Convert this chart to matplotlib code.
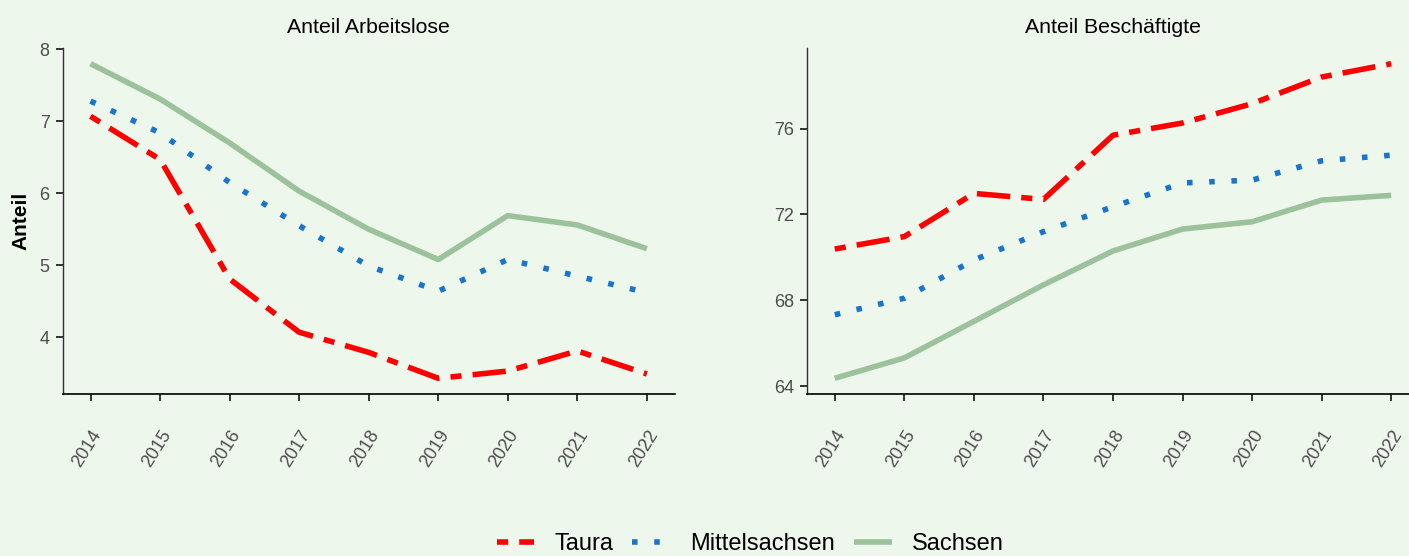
import matplotlib
matplotlib.use("Agg")
import matplotlib.pyplot as plt

# data
years = [2014, 2015, 2016, 2017, 2018, 2019, 2020, 2021, 2022]
regions = ["Taura", "Mittelsachsen", "Sachsen"]

alq_taura = [7.07, 6.47, 4.81, 4.07, 3.79, 3.43, 3.53, 3.81, 3.49]
alq_mittelsachsen = [7.28, 6.84, 6.15, 5.55, 4.99, 4.64, 5.08, 4.85, 4.62]
alq_sachsen = [7.80, 7.31, 6.70, 6.03, 5.50, 5.08, 5.69, 5.56, 5.23]

beq_taura = [70.39, 70.97, 72.98, 72.70, 75.69, 76.26, 77.16, 78.40, 79.02]
beq_mittelsachsen = [67.33, 68.10, 69.88, 71.20, 72.36, 73.47, 73.60, 74.50, 74.76]
beq_sachsen = [64.37, 65.32, 67.02, 68.72, 70.30, 71.32, 71.66, 72.67, 72.89]

titles = ["Anteil Arbeitslose", "Anteil Beschäftigte"]
yticks_left = [4, 5, 6, 7, 8]
yticks_right = [64, 68, 72, 76]

BG = "#EEF7EC"
styles = {
    "Taura": dict(color="#FF0000", dashes=(2, 2, 6, 2)),
    "Mittelsachsen": dict(color="#1874CD", dashes=(1, 3)),
    "Sachsen": dict(color="#9CC29C", dashes=()),
}
LW = 4.0

plt.rcParams["font.family"] = ["Liberation Sans", "DejaVu Sans"]

fig = plt.figure(figsize=(14.09, 5.56), dpi=100, facecolor=BG)
ax1 = fig.add_axes([62.7 / 1409, 1 - 394 / 556, 612 / 1409, 346 / 556])
ax2 = fig.add_axes([807 / 1409, 1 - 394 / 556, 612 / 1409, 346 / 556])

panels = [
    (ax1, [alq_taura, alq_mittelsachsen, alq_sachsen], yticks_left),
    (ax2, [beq_taura, beq_mittelsachsen, beq_sachsen], yticks_right),
]

handles = []
for (ax, series, yt), title in zip(panels, titles):
    ax.set_facecolor(BG)
    for name, vals in zip(regions, series):
        st = styles[name]
        ln, = ax.plot(years, vals, color=st["color"], lw=LW, solid_capstyle="butt",
                      dash_capstyle="butt", label=name)
        if st["dashes"]:
            ln.set_dashes(st["dashes"])
        if ax is ax1:
            handles.append(ln)
    lo = min(min(v) for v in series)
    hi = max(max(v) for v in series)
    pad = (hi - lo) * 0.05
    ax.set_ylim(lo - pad, hi + pad)
    ax.set_xlim(2014 - 0.4, 2022 + 0.4)
    ax.set_yticks(yt)
    ax.set_xticks(years)
    ax.set_xticklabels([str(y) for y in years], rotation=58, ha="right",
                       va="top", rotation_mode="anchor")
    ax.set_title(title, fontsize=15.3, pad=11, color="black")
    for s in ("top", "right"):
        ax.spines[s].set_visible(False)
    ax.spines["left"].set_color("#333333")
    ax.spines["bottom"].set_color("black")
    ax.spines["left"].set_linewidth(1.0)
    ax.spines["bottom"].set_linewidth(1.2)
    ax.tick_params(axis="both", length=5, width=1.4, color="#333333",
                   labelcolor="#4D4D4D", labelsize=13)
    ax.tick_params(axis="y", pad=4.5)
    ax.tick_params(axis="x", pad=19)

ax1.set_ylabel("Anteil", fontsize=15, fontweight="bold")
ax1.yaxis.set_label_coords(-0.053, 0.5)

leg = fig.legend(handles=handles, labels=regions, loc="center", ncol=3,
                 bbox_to_anchor=(750 / 1409, 1 - 544 / 556), frameon=False,
                 fontsize=17, handlelength=1.6, handletextpad=0.85,
                 columnspacing=0.8)

fig.savefig("out.png", dpi=100, facecolor=BG)
